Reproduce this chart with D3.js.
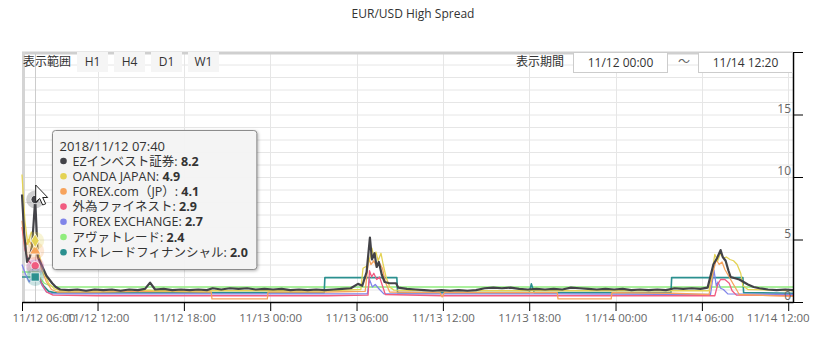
<!DOCTYPE html>
<html>
<head>
<meta charset="utf-8">
<script src="https://cdn.jsdelivr.net/npm/d3@7"></script>
<style>
  html, body { margin: 0; padding: 0; background: #fff; }
  svg { display: block; font-family: "Open Sans", "Noto Sans CJK JP", sans-serif; }
</style>
</head>
<body>
<div id="chart"></div>
<script>
'use strict'

// hours after 2018/11/12 00:00
const startHour = 6.75
const endHour = 60.333
const hoverHour = 7.667

const seriesNames = ['EZインベスト証券', 'OANDA JAPAN', 'FOREX.com（JP）', '外為ファイネスト',
  'FOREX EXCHANGE', 'アヴァトレード', 'FXトレードフィナンシャル']
const seriesColors = ['#434348', '#e4d354', '#f7a35c', '#f15c80', '#8085e9', '#90ed7d', '#2b908f']
const seriesSymbols = ['circle', 'diamond', 'triangle', 'circle', 'triangle-down', 'circle', 'square']

const ezData = [[6.75, 8.6], [6.9, 5.5], [7.1, 3.2], [7.3, 3.6], [7.45, 4.5], [7.667, 8.2], [7.85, 3.6],
  [8.05, 3.1], [8.25, 2.6], [8.45, 2.1], [8.65, 1.8], [8.85, 1.5], [9.1, 1.2], [9.4, 1.0], [10.0, 0.95],
  [10.6, 1.0], [11.2, 0.9], [11.8, 1.0], [12.4, 0.95], [13.0, 1.0], [13.6, 0.9], [14.2, 1.0], [14.8, 0.95],
  [15.3, 1.05], [15.65, 1.55], [16.0, 1.0], [16.6, 1.05], [17.2, 0.95], [17.8, 1.0], [18.4, 0.95],
  [19.0, 1.0], [19.6, 0.95], [20.0, 1.1], [20.6, 1.0], [21.2, 1.1], [21.8, 1.05], [22.4, 1.1], [23.0, 1.0],
  [23.6, 1.05], [24.2, 1.0], [24.8, 1.05], [25.4, 0.95], [26.0, 1.0], [26.6, 0.95], [27.2, 1.0],
  [27.8, 0.95], [28.4, 1.0], [29.0, 1.05], [29.6, 1.1], [30.1, 1.45], [30.4, 1.3], [30.7, 2.4],
  [30.93, 5.15], [31.07, 3.4], [31.25, 3.9], [31.4, 2.8], [31.55, 3.2], [31.75, 2.2], [31.95, 1.6],
  [32.3, 1.5], [32.75, 1.5], [32.9, 1.15], [33.5, 1.05], [34.1, 1.0], [34.7, 0.95], [35.3, 0.9],
  [35.9, 0.95], [36.5, 0.9], [37.1, 0.95], [37.7, 0.9], [38.3, 0.95], [38.9, 1.1], [39.5, 1.15],
  [40.1, 1.1], [40.7, 1.15], [41.3, 1.05], [41.9, 1.0], [42.5, 1.05], [43.1, 1.0], [43.7, 1.05],
  [44.3, 1.0], [44.9, 1.15], [45.5, 1.1], [46.1, 1.05], [46.7, 1.0], [47.3, 1.05], [47.9, 1.0],
  [48.5, 1.05], [49.1, 0.95], [49.7, 1.0], [50.3, 0.95], [50.9, 1.0], [51.5, 0.95], [52.1, 1.1],
  [52.7, 1.05], [53.3, 1.1], [53.9, 1.05], [54.4, 1.15], [54.8, 3.0], [55.05, 3.5], [55.3, 4.15],
  [55.45, 3.6], [55.65, 3.3], [55.85, 2.5], [56.0, 2.0], [56.3, 1.9], [56.6, 1.8], [56.9, 1.6],
  [57.2, 1.4], [57.6, 1.2], [58.0, 1.1], [58.6, 1.0], [59.2, 0.95], [59.8, 1.0], [60.333, 0.95]]

const oandaData = [[6.75, 10.2], [6.95, 6.5], [7.15, 4.6], [7.4, 5.6], [7.667, 4.9], [7.85, 4.2],
  [8.05, 3.3], [8.3, 2.3], [8.6, 1.5], [9.0, 1.05], [9.5, 0.9], [12.0, 0.9], [15.6, 0.95], [16.0, 0.9],
  [20.0, 0.9], [24.0, 0.9], [28.0, 0.9], [30.3, 1.0], [30.45, 2.7], [30.75, 2.9], [30.95, 3.6],
  [31.07, 4.3], [31.2, 3.6], [31.35, 4.0], [31.5, 3.3], [31.7, 3.9], [31.85, 3.0], [32.05, 2.0],
  [32.3, 1.2], [32.6, 0.95], [36.0, 0.9], [42.0, 0.9], [48.0, 0.9], [54.5, 0.9], [54.65, 2.0],
  [54.9, 3.8], [55.1, 3.3], [55.3, 3.9], [55.5, 3.5], [55.7, 3.6], [55.95, 3.4], [56.2, 3.3],
  [56.45, 3.0], [56.7, 2.3], [56.85, 1.3], [57.2, 1.0], [60.333, 0.9]]

const forexComData = [[6.75, 6.5], [6.95, 4.4], [7.2, 5.0], [7.45, 4.5], [7.667, 4.1], [7.9, 3.4],
  [8.15, 2.5], [8.45, 1.6], [8.8, 1.0], [9.2, 0.8], [12.0, 0.8], [15.6, 0.85], [19.9, 0.8], [19.95, 0.25],
  [23.8, 0.25], [23.85, 0.8], [28.0, 0.8], [30.6, 0.85], [30.85, 3.5], [31.0, 3.0], [31.2, 3.3],
  [31.4, 2.8], [31.6, 3.1], [31.8, 2.7], [32.0, 1.6], [32.3, 0.8], [35.8, 0.75], [35.95, 0.4],
  [36.1, 0.75], [43.95, 0.75], [44.0, 0.25], [47.7, 0.25], [47.75, 0.75], [51.9, 0.7], [54.5, 0.6],
  [54.8, 2.5], [55.0, 3.4], [55.2, 3.0], [55.4, 3.2], [55.6, 2.6], [55.8, 2.2], [56.0, 1.8], [56.3, 1.2],
  [56.6, 0.6], [60.333, 0.45]]

const gaitameData = [[6.75, 6.0], [6.95, 4.2], [7.2, 3.3], [7.45, 3.0], [7.667, 2.9], [7.9, 2.2],
  [8.15, 1.4], [8.45, 0.8], [8.9, 0.55], [12.0, 0.5], [20.0, 0.5], [28.0, 0.5], [30.8, 0.55], [30.9, 2.5],
  [31.05, 2.0], [31.2, 2.3], [31.4, 1.8], [31.6, 2.0], [31.8, 1.3], [32.0, 0.6], [36.0, 0.5], [44.0, 0.5],
  [54.9, 0.5], [55.1, 1.4], [55.3, 1.8], [55.6, 1.8], [55.9, 1.5], [56.1, 0.9], [56.4, 0.55], [60.333, 0.5]]

const forexExData = [[6.75, 3.0], [7.0, 2.2], [7.25, 1.6], [7.45, 2.0], [7.667, 2.7], [7.9, 2.0],
  [8.15, 1.3], [8.45, 0.8], [8.9, 0.65], [20.0, 0.65], [30.75, 0.65], [30.9, 1.8], [31.1, 1.2],
  [31.3, 1.4], [31.6, 1.0], [31.9, 0.65], [44.0, 0.65], [54.6, 0.6], [54.84, 2.55], [55.0, 1.3],
  [55.12, 1.6], [55.3, 1.1], [55.5, 1.0], [55.8, 0.65], [60.333, 0.6]]

const avaData = [[6.75, 2.4], [7.667, 2.4], [7.95, 2.0], [8.3, 1.5], [8.7, 1.3], [9.0, 1.2], [30.0, 1.2],
  [42.2, 1.2], [60.333, 1.2]]

const fxTradeData = [[6.75, 2.0], [7.667, 2.0], [7.95, 1.8], [8.25, 1.3], [8.6, 0.85], [9.0, 0.75],
  [27.75, 0.75], [27.8, 1.95], [32.8, 1.95], [32.85, 0.75], [42.0, 0.75], [42.15, 1.45], [42.35, 0.75],
  [51.85, 0.75], [51.9, 1.95], [56.85, 1.95], [56.9, 0.75], [60.333, 0.7]]

const seriesData = [ezData, oandaData, forexComData, gaitameData, forexExData, avaData, fxTradeData]

const xTickHours = [startHour, 12, 18, 24, 30, 36, 42, 48, 54, 60]
const xTickLabels = ['11/12 06:00', '11/12 12:00', '11/12 18:00', '11/13 00:00', '11/13 06:00',
  '11/13 12:00', '11/13 18:00', '11/14 00:00', '11/14 06:00', '11/14 12:00']
const yTicks = [0, 5, 10, 15, 20]
const rangeButtons = ['H1', 'H4', 'D1', 'W1']
const periodFrom = '11/12 00:00'
const periodTo = '11/14 12:20'
const tooltipTitle = '2018/11/12 07:40'

const width = 816
const height = 337
const plot = { left: 22, right: 793, top: 52, bottom: 302 }

const base = new Date(2018, 10, 12, 0, 0)
function hour (h) {
  return new Date(base.getTime() + h * 3600e3)
}

const x = d3.scaleTime().domain([hour(startHour), hour(endHour)]).range([plot.left, plot.right])
const y = d3.scaleLinear().domain([0, 20]).range([plot.bottom, plot.top])

const svg = d3.select('#chart').append('svg')
  .attr('width', width)
  .attr('height', height)

svg.append('text')
  .attr('x', 413)
  .attr('y', 18)
  .attr('text-anchor', 'middle')
  .attr('fill', '#333')
  .style('font-size', '12px')
  .text('EUR/USD High Spread')

// grid
svg.append('g').selectAll('line')
  .data(d3.range(0, 21))
  .enter().append('line')
  .attr('x1', plot.left).attr('x2', plot.right)
  .attr('y1', d => y(d) + 0.5).attr('y2', d => y(d) + 0.5)
  .attr('stroke', '#e6e6e6')

svg.append('g').selectAll('line')
  .data(xTickHours.slice(1))
  .enter().append('line')
  .attr('x1', d => Math.round(x(hour(d))) + 0.5).attr('x2', d => Math.round(x(hour(d))) + 0.5)
  .attr('y1', plot.top).attr('y2', plot.bottom)
  .attr('stroke', '#e6e6e6')

// crosshair
svg.append('line')
  .attr('x1', Math.round(x(hour(hoverHour))) + 0.5).attr('x2', Math.round(x(hour(hoverHour))) + 0.5)
  .attr('y1', plot.top).attr('y2', plot.bottom)
  .attr('stroke', '#cccccc')

// frame of the range selector
svg.append('line')
  .attr('x1', plot.left).attr('x2', plot.right)
  .attr('y1', plot.top + 1).attr('y2', plot.top + 1)
  .attr('stroke', '#cfcfcf').attr('stroke-width', 3)
svg.append('line')
  .attr('x1', plot.left + 1.5).attr('x2', plot.left + 1.5)
  .attr('y1', plot.top).attr('y2', plot.bottom)
  .attr('stroke', '#d4d4d4').attr('stroke-width', 3)

// lines
const line = d3.line()
  .x(d => x(hour(d[0])))
  .y(d => y(d[1]))

const drawOrder = [5, 6, 4, 3, 2, 1, 0]
svg.append('g').selectAll('path')
  .data(drawOrder)
  .enter().append('path')
  .attr('d', i => line(seriesData[i]))
  .attr('fill', 'none')
  .attr('stroke', i => seriesColors[i])
  .attr('stroke-width', i => i === 0 ? 2.2 : (i === 6 ? 1.6 : 1.3))
  .attr('stroke-linejoin', 'round')

// axes
const xAxis = d3.axisBottom(x)
  .tickValues(xTickHours.map(hour))
  .tickFormat((d, i) => xTickLabels[i])
  .tickSize(9)
  .tickSizeOuter(0)

const gx = svg.append('g')
  .attr('transform', 'translate(0,' + plot.bottom + ')')
  .call(xAxis)
gx.select('.domain').attr('stroke', '#000').attr('stroke-width', 1.5)
gx.selectAll('.tick line').attr('stroke', '#000')
gx.selectAll('.tick text')
  .attr('fill', '#666')
  .attr('y', 12)
  .style('font-size', '11.5px')
  .style('font-family', '"Open Sans", sans-serif')
gx.select('.tick text').attr('text-anchor', 'start').attr('x', -10)
gx.selectAll('.tick text').filter((d, i) => i === xTickHours.length - 1)
  .attr('text-anchor', 'end').attr('x', 21)

const yAxis = d3.axisRight(y)
  .tickValues(yTicks)
  .tickFormat(d => d === 20 ? '' : d)
  .tickSize(10)
  .tickSizeOuter(0)

const gy = svg.append('g')
  .attr('transform', 'translate(' + plot.right + ',0)')
  .call(yAxis)
gy.select('.domain').attr('stroke', '#000').attr('stroke-width', 1.5)
gy.selectAll('.tick line').attr('stroke', '#000')
gy.selectAll('.tick text')
  .attr('fill', '#666')
  .attr('x', -2)
  .attr('dy', '-0.2em')
  .attr('text-anchor', 'end')
  .style('font-size', '12px')
  .style('font-family', '"Open Sans", sans-serif')

// range selector
svg.append('text')
  .attr('x', 23).attr('y', 66)
  .attr('fill', '#333')
  .style('font-size', '12px')
  .text('表示範囲')

const btn = svg.append('g').selectAll('g')
  .data(rangeButtons)
  .enter().append('g')
  .attr('transform', (d, i) => 'translate(' + (77 + i * 37) + ',52)')
btn.append('rect')
  .attr('width', 31).attr('height', 20)
  .attr('fill', '#f5f5f5')
btn.append('text')
  .attr('x', 15.5).attr('y', 14)
  .attr('text-anchor', 'middle')
  .attr('fill', '#333')
  .style('font-size', '12px')
  .text(d => d)

svg.append('text')
  .attr('x', 564).attr('y', 66)
  .attr('text-anchor', 'end')
  .attr('fill', '#333')
  .style('font-size', '12px')
  .text('表示期間')

const inputs = svg.append('g').selectAll('g')
  .data([periodFrom, periodTo])
  .enter().append('g')
  .attr('transform', (d, i) => 'translate(' + (i === 0 ? 573.5 : 698.5) + ',52.5)')
inputs.append('rect')
  .attr('width', 94).attr('height', 20)
  .attr('fill', '#fff')
  .attr('stroke', '#cccccc')
inputs.append('text')
  .attr('x', 47).attr('y', 14)
  .attr('text-anchor', 'middle')
  .attr('fill', '#333')
  .style('font-size', '12px')
  .text(d => d)

svg.append('text')
  .attr('x', 684).attr('y', 66)
  .attr('text-anchor', 'middle')
  .attr('fill', '#666')
  .style('font-size', '12px')
  .text('～')

// hover markers
const hx = x(hour(hoverHour))
const hoverValues = seriesData.map(s => s.find(d => d[0] === hoverHour)[1])
const symbolTypes = {
  'circle': d3.symbolCircle,
  'diamond': d3.symbolDiamond,
  'triangle': d3.symbolTriangle,
  'square': d3.symbolSquare,
  'triangle-down': d3.symbolTriangle2
}
const markerOrder = [5, 4, 3, 2, 6, 1, 0]
const markers = svg.append('g').selectAll('g')
  .data(markerOrder)
  .enter().append('g')
  .attr('transform', i => 'translate(' + hx + ',' + y(hoverValues[i]) + ')')
markers.append('circle')
  .attr('r', 9)
  .attr('fill', i => seriesColors[i])
  .attr('opacity', 0.25)
markers.append('path')
  .attr('d', i => d3.symbol().type(symbolTypes[seriesSymbols[i]]).size(seriesSymbols[i] === 'square' ? 70 : 55)())
  .attr('fill', i => seriesColors[i])
  .attr('stroke', '#fff')
  .attr('stroke-width', 0.8)

// tooltip
const tip = svg.append('g').attr('transform', 'translate(52.5,130.5)')
const tipBox = tip.append('rect')
  .attr('height', 139)
  .attr('rx', 3)
  .attr('fill', 'rgba(247,247,247,0.95)')
  .attr('stroke', '#8c8c8c')
  .style('filter', 'drop-shadow(1px 1px 1.5px rgba(0,0,0,0.3))')
tip.append('text')
  .attr('x', 7).attr('y', 20)
  .attr('fill', '#333')
  .style('font-size', '13px')
  .text(tooltipTitle)
const rows = tip.selectAll('g.row')
  .data(d3.range(seriesNames.length))
  .enter().append('g')
  .attr('class', 'row')
  .attr('transform', i => 'translate(0,' + (35 + i * 15.2) + ')')
rows.append('circle')
  .attr('cx', 11).attr('cy', -4.5).attr('r', 3.3)
  .attr('fill', i => seriesColors[i])
const rowText = rows.append('text')
  .attr('x', 20)
  .attr('fill', '#333')
  .style('font-size', '12.5px')
rowText.append('tspan').text(i => seriesNames[i] + ': ')
rowText.append('tspan').attr('font-weight', 'bold').text(i => hoverValues[i].toFixed(1))
let maxW = 0
rowText.each(function () { maxW = Math.max(maxW, this.getComputedTextLength()) })
tipBox.attr('width', Math.max(203, maxW + 29))

// mouse pointer
svg.append('path')
  .attr('transform', 'translate(' + (hx + 0.5) + ',' + (y(hoverValues[0]) - 14.5) + ')')
  .attr('d', 'M0,0 L0,17 L4,13.5 L7,20 L10,18.8 L7,12.5 L12,12.5 Z')
  .attr('fill', '#fff')
  .attr('stroke', '#222')
  .attr('stroke-width', 1)
</script>
</body>
</html>
